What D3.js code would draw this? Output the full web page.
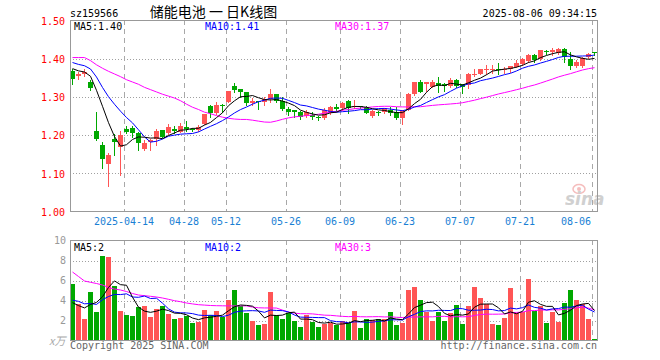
<!DOCTYPE html>
<html><head><meta charset="utf-8">
<script src="https://cdn.jsdelivr.net/npm/d3@7"></script>
<style>
body{margin:0;background:#fff}
svg{display:block}
text{font-family:"DejaVu Sans Mono",monospace;font-size:10px}
</style>
</head><body>
<svg id="c" width="660" height="360"></svg>
<script>
// ---------- data ----------
const dates = ["03-31","04-01","04-02","04-03","04-07","04-08","04-09","04-10","04-11",
"04-14","04-15","04-16","04-17","04-18","04-21","04-22","04-23","04-24","04-25",
"04-28","04-29","04-30","05-06","05-07","05-08","05-09",
"05-12","05-13","05-14","05-15","05-16","05-19","05-20","05-21","05-22","05-23",
"05-26","05-27","05-28","05-29","05-30","06-03","06-04","06-05","06-06",
"06-09","06-10","06-11","06-12","06-13","06-16","06-17","06-18","06-19","06-20",
"06-23","06-24","06-25","06-26","06-27","06-30","07-01","07-02","07-03","07-04",
"07-07","07-08","07-09","07-10","07-11","07-14","07-15","07-16","07-17","07-18",
"07-21","07-22","07-23","07-24","07-25","07-28","07-29","07-30","07-31","08-01",
"08-04","08-05","08-06"];
const open  = [1.367,1.354,1.361,1.338,1.212,1.174,1.125,1.190,1.170,1.216,1.219,1.205,1.164,1.183,1.189,1.214,1.206,1.216,1.209,1.221,1.215,1.214,1.229,1.276,1.257,1.280,1.287,1.328,1.320,1.312,1.284,1.289,1.286,1.294,1.307,1.289,1.268,1.266,1.261,1.251,1.253,1.248,1.244,1.257,1.274,1.270,1.289,1.274,1.275,1.274,1.251,1.260,1.261,1.266,1.261,1.244,1.266,1.307,1.338,1.335,1.326,1.337,1.333,1.329,1.344,1.333,1.331,1.359,1.361,1.370,1.372,1.374,1.372,1.372,1.378,1.386,1.394,1.409,1.398,1.419,1.417,1.415,1.426,1.400,1.380,1.380,1.404,1.418];
const high  = [1.374,1.365,1.372,1.344,1.261,1.181,1.154,1.203,1.212,1.224,1.224,1.207,1.188,1.191,1.215,1.214,1.229,1.224,1.231,1.237,1.218,1.227,1.256,1.280,1.286,1.281,1.316,1.336,1.321,1.313,1.298,1.290,1.300,1.320,1.308,1.299,1.274,1.267,1.262,1.266,1.261,1.249,1.270,1.275,1.281,1.287,1.292,1.292,1.277,1.275,1.266,1.264,1.272,1.274,1.274,1.266,1.309,1.340,1.344,1.339,1.344,1.352,1.337,1.350,1.348,1.334,1.363,1.372,1.374,1.383,1.383,1.389,1.378,1.381,1.396,1.401,1.413,1.413,1.423,1.424,1.429,1.427,1.427,1.417,1.396,1.405,1.414,1.418];
const low   = [1.335,1.348,1.355,1.318,1.187,1.115,1.068,1.149,1.095,1.205,1.196,1.161,1.161,1.161,1.174,1.195,1.202,1.205,1.207,1.212,1.212,1.210,1.228,1.247,1.254,1.261,1.286,1.312,1.299,1.279,1.279,1.268,1.279,1.287,1.287,1.266,1.253,1.247,1.242,1.247,1.241,1.240,1.242,1.256,1.264,1.267,1.259,1.270,1.271,1.257,1.248,1.253,1.259,1.253,1.242,1.229,1.265,1.305,1.312,1.316,1.325,1.313,1.316,1.326,1.326,1.311,1.322,1.354,1.359,1.359,1.363,1.359,1.363,1.366,1.377,1.383,1.391,1.391,1.396,1.411,1.409,1.411,1.391,1.374,1.377,1.378,1.402,1.409];
const close = [1.346,1.361,1.365,1.324,1.190,1.137,1.147,1.183,1.199,1.208,1.206,1.180,1.179,1.188,1.211,1.196,1.221,1.212,1.224,1.217,1.214,1.222,1.254,1.259,1.280,1.277,1.315,1.318,1.312,1.284,1.289,1.286,1.294,1.307,1.290,1.268,1.260,1.261,1.248,1.261,1.247,1.244,1.266,1.274,1.269,1.283,1.272,1.277,1.273,1.259,1.264,1.257,1.270,1.257,1.246,1.264,1.307,1.338,1.313,1.338,1.339,1.329,1.328,1.344,1.328,1.326,1.359,1.361,1.372,1.372,1.374,1.372,1.374,1.380,1.389,1.398,1.409,1.396,1.422,1.417,1.422,1.426,1.404,1.381,1.391,1.403,1.413,1.416];
const volume = [5.62,3.63,2.14,4.83,2.84,8.41,8.31,5.42,2.94,2.54,
2.44,3.33,3.43,2.34,3.13,3.43,2.64,2.14,2.24,2.44,
1.77,1.84,3.03,2.54,2.94,2.34,4.03,5.02,3.43,2.74,
1.94,1.54,1.64,4.83,2.54,2.14,2.74,1.94,1.34,2.54,
1.84,1.34,1.64,1.80,1.54,1.94,1.74,2.94,1.24,2.14,
2.04,2.14,2.14,2.84,1.54,1.74,5.02,5.32,4.03,2.84,
1.94,2.84,1.94,2.74,3.53,1.64,3.43,5.32,4.23,3.63,
1.64,1.54,2.24,5.22,2.74,2.84,6.12,2.94,3.43,1.74,
2.84,1.84,3.73,5.02,4.03,3.63,2.14,0.13];
// values before the visible window (estimated from the MA lines)
const priorCloses  = [1.41,1.40,1.41,1.40,1.41,1.39,1.38,1.38,1.374];
const priorVolumes = [4.8,4.6,4.5,3.8,3.7,5.1,3.3,3.1,1.8];
const ma30PriceHead = [1.403,1.403,1.403,1.395,1.384,1.375,1.367,1.360,1.353,1.345,1.339,1.333,1.325,1.319,1.313,1.307,1.302,1.297,1.290,1.281,1.273,1.267,1.260,1.256,1.251,1.247,1.244,1.242,1.241];
const ma30VolHead = [6.85,6.40,5.95,5.82,5.70,5.55,5.30,5.15,5.05,4.90,4.70,4.55,4.48,4.42,4.35,4.25,4.12,3.98,3.88,3.75,3.66,3.58,3.54,3.50,3.48,3.47,3.46,3.46,3.46];

const tickDates  = ["04-14","04-28","05-12","05-26","06-09","06-23","07-07","07-21","08-06"];
const tickLabels = ["2025-04-14","04-28","05-12","05-26","06-09","06-23","07-07","07-21","08-06"];
const priceTicks = [1.00,1.10,1.20,1.30,1.40,1.50];
const priceGrid  = [1.10,1.20,1.30,1.40];
const volTicks   = [2,4,6,8,10];
const volGrid    = [2,4,6,8];
const priceLegend = ["MA5:1.40","MA10:1.41","MA30:1.37"];
const volLegend   = ["MA5:2","MA10:2","MA30:3"];
const maColors = ["#000000","#0000ff","#ff00ff"];

// ---------- helpers ----------
function movingAvg(vals, prior, n, head){
  const all = prior.concat(vals), off = prior.length;
  return vals.map((v,i)=>{
    if (head && i < head.length) return head[i];
    return d3.mean(all.slice(i+off-n+1, i+off+1));
  });
}
const pMA = [movingAvg(close, priorCloses, 5), movingAvg(close, priorCloses, 10), movingAvg(close, priorCloses, 30, ma30PriceHead)];
const vMA = [movingAvg(volume, priorVolumes, 5), movingAvg(volume, priorVolumes, 10), movingAvg(volume, priorVolumes, 30, ma30VolHead)];

const RED = "#ff5555", GREEN = "#00a800";
const L = 70, R = 597;
const svg = d3.select("#c");

const x = d3.scaleBand().domain(dates).range([69.5, 597.5]).paddingInner(1/6).paddingOuter(1/12);
const y = d3.scaleLinear().domain([1.0, 1.5]).range([211.5, 20.5]);
const yv = d3.scaleLinear().domain([0, 10]).range([340.5, 240.5]);
const cx = d => x(d) + 2.5;

// ---------- header ----------
svg.append("text").attr("x", 70).attr("y", 16.5).attr("fill", "#000").text("sz159566");
svg.append("text").attr("x", 213.5).attr("y", 17).attr("text-anchor", "middle")
  .style("font-family", '"Noto Sans CJK SC", sans-serif').style("font-size", "14px")
  .attr("fill", "#000").text("储能电池 一 日K线图");
svg.append("text").attr("x", 597).attr("y", 16.5).attr("text-anchor", "end").attr("fill", "#000").text("2025-08-06 09:34:15");

// ---------- grid ----------
const grid = svg.append("g").attr("shape-rendering", "crispEdges");
grid.selectAll(".hp").data(priceGrid).join("line")
  .attr("x1", L).attr("x2", R).attr("y1", d => Math.round(y(d)) + 0.5).attr("y2", d => Math.round(y(d)) + 0.5)
  .attr("stroke", "#a0a0a0").attr("stroke-dasharray", "1,2");
grid.selectAll(".hv").data(volGrid).join("line")
  .attr("x1", L).attr("x2", R).attr("y1", d => Math.round(yv(d)) + 0.5).attr("y2", d => Math.round(yv(d)) + 0.5)
  .attr("stroke", "#a0a0a0").attr("stroke-dasharray", "1,2");
tickDates.forEach(d => {
  const gx = x(d) + 0.5;
  grid.append("line").attr("x1", gx).attr("x2", gx).attr("y1", 20).attr("y2", 211)
    .attr("stroke", "#a8a8a8").attr("stroke-dasharray", "5,4");
  grid.append("line").attr("x1", gx).attr("x2", gx).attr("y1", 240).attr("y2", 340)
    .attr("stroke", "#a8a8a8").attr("stroke-dasharray", "5,4");
});

// ---------- sina watermark ----------
const wm = svg.append("g").attr("opacity", 0.55);
wm.append("ellipse").attr("cx", 579).attr("cy", 189).attr("rx", 6).attr("ry", 4.5)
  .attr("fill", "none").attr("stroke", "#e88").attr("stroke-width", 1.5);
wm.append("circle").attr("cx", 579).attr("cy", 189).attr("r", 2).attr("fill", "#e88");
wm.append("text").attr("x", 565).attr("y", 205).style("font-family", '"DejaVu Sans", sans-serif')
  .style("font-size", "17px").style("font-style", "italic").style("font-weight", "bold")
  .attr("fill", "#aaa").text("sina");

// ---------- candles ----------
const idx = d3.range(dates.length);
const cg = svg.append("g").attr("shape-rendering", "crispEdges");
const col = i => close[i] >= open[i] ? RED : GREEN;
cg.selectAll(".wick").data(idx).join("line")
  .attr("x1", i => cx(dates[i])).attr("x2", i => cx(dates[i]))
  .attr("y1", i => Math.round(y(high[i]))).attr("y2", i => Math.round(y(low[i])) + 1)
  .attr("stroke", col);
cg.selectAll(".body").data(idx).join("rect")
  .attr("x", i => x(dates[i])).attr("width", x.bandwidth())
  .attr("y", i => Math.round(y(Math.max(open[i], close[i]))))
  .attr("height", i => Math.max(1, Math.round(y(Math.min(open[i], close[i]))) - Math.round(y(Math.max(open[i], close[i])))))
  .attr("fill", col);

// ---------- volume bars ----------
cg.selectAll(".vol").data(idx).join("rect")
  .attr("x", i => x(dates[i])).attr("width", x.bandwidth())
  .attr("y", i => Math.round(yv(volume[i])))
  .attr("height", i => Math.max(1, 340 - Math.round(yv(volume[i]))))
  .attr("fill", col);

// ---------- MA lines ----------
[2,1,0].forEach(k => {
  svg.append("path").datum(idx)
    .attr("d", d3.line().x(i => cx(dates[i])).y(i => y(pMA[k][i])))
    .attr("fill", "none").attr("stroke", maColors[k]).attr("stroke-width", 1);
  svg.append("path").datum(idx)
    .attr("d", d3.line().x(i => cx(dates[i])).y(i => yv(vMA[k][i])))
    .attr("fill", "none").attr("stroke", maColors[k]).attr("stroke-width", 1);
});

// ---------- frames ----------
const fr = svg.append("g").attr("shape-rendering", "crispEdges").attr("fill", "none").attr("stroke", "#999");
fr.append("rect").attr("x", 70.5).attr("y", 20.5).attr("width", 527).attr("height", 191);
fr.append("rect").attr("x", 70.5).attr("y", 240.5).attr("width", 527).attr("height", 100);

// ---------- axes ----------
const ay = svg.append("g").attr("transform", "translate(70,0)")
  .call(d3.axisLeft(y).tickValues(priceTicks).tickFormat(d3.format(".2f")).tickSize(0).tickPadding(5));
ay.select(".domain").remove();
ay.selectAll("text").attr("fill", "#ff0000").attr("dy", "0.38em")
  .style("font-family", '"DejaVu Sans Mono", monospace').style("font-size", "10px");

const av = svg.append("g").attr("transform", "translate(70,0)")
  .call(d3.axisLeft(yv).tickValues(volTicks).tickFormat(d3.format("d")).tickSize(0).tickPadding(4));
av.select(".domain").remove();
av.selectAll("text").attr("fill", "#999").attr("dy", "0.32em")
  .style("font-family", '"DejaVu Sans Mono", monospace').style("font-size", "10px");

svg.append("text").attr("x", 49).attr("y", 345).attr("fill", "#aaa")
  .style("font-family", '"Noto Sans CJK SC", serif').style("font-size", "11px").style("font-style", "italic").text("x万");

// date labels
tickDates.forEach((d, k) => {
  const gx = x(d);
  const last = k === tickDates.length - 1;
  svg.append("text").attr("x", last ? gx - 1 : gx).attr("y", 225)
    .attr("text-anchor", last ? "end" : "middle").attr("fill", "#1a7fd4").text(tickLabels[k]);
});

// ---------- legends ----------
const legX = [74, 205, 335];
priceLegend.forEach((t, k) => svg.append("text").attr("x", legX[k]).attr("y", 30).attr("fill", maColors[k]).text(t));
volLegend.forEach((t, k) => svg.append("text").attr("x", legX[k]).attr("y", 251).attr("fill", maColors[k]).text(t));

// ---------- footer ----------
svg.append("text").attr("x", 70).attr("y", 349).attr("fill", "#666").text("Copyright 2025 SINA.COM");
svg.append("text").attr("x", 597).attr("y", 349).attr("text-anchor", "end").attr("fill", "#666").text("http://finance.sina.com.cn");
</script>
</body></html>
